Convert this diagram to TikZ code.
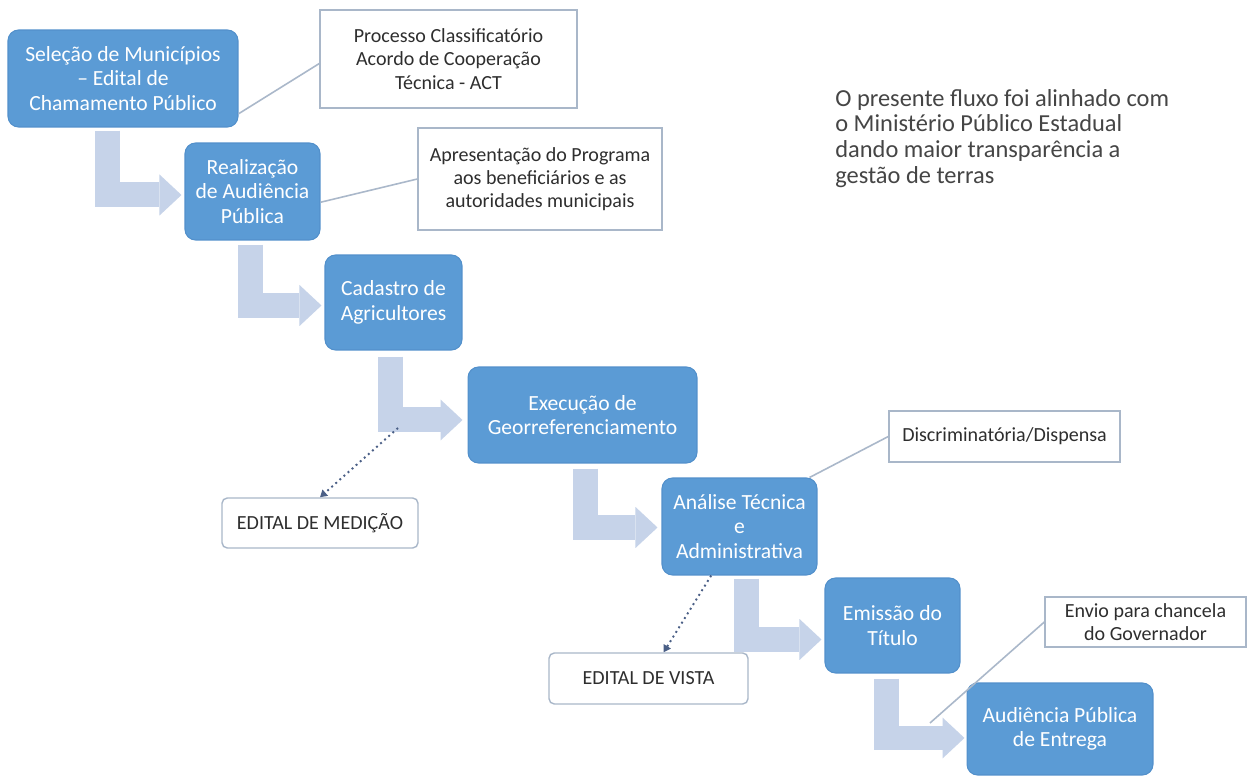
\documentclass[tikz,border=0pt]{standalone}
\usepackage{fontspec}
\setmainfont{Carlito}
\usetikzlibrary{arrows.meta}

\definecolor{stepblue}{HTML}{5B9BD5}
\definecolor{stepedge}{HTML}{5290CB}
\definecolor{arrowblue}{HTML}{C6D3E9}
\definecolor{noteedge}{HTML}{A9B7C9}
\definecolor{linkgray}{HTML}{AAB8CA}
\definecolor{dotblue}{HTML}{4A5F86}
\definecolor{notetext}{HTML}{2E2E2E}
\definecolor{commentgray}{HTML}{454545}

\begin{document}
\begin{tikzpicture}[x=0.02cm, y=-0.02cm,
    stepbox/.style={rectangle, rounded corners=6pt, fill=stepblue, draw=stepedge,
      line width=0.6pt, text=white, align=center, inner sep=0pt,
      font=\fontsize{12.3}{14}\selectfont},
    notebox/.style={rectangle, fill=white, draw=noteedge, line width=0.8pt,
      text=notetext, align=center, inner sep=0pt, font=\fontsize{11.4}{13.2}\selectfont},
    tagbox/.style={notebox, rounded corners=3pt},
    steparrow/.style={draw=arrowblue, line width=0.5cm, line join=miter,
      -{Triangle[width=0.82cm,length=0.44cm,line width=0pt]}},
    link/.style={draw=linkgray, line width=0.9pt},
    dotlink/.style={draw=dotblue, dotted, line width=1.1pt,
      -{Triangle[width=4.5pt,length=4pt]}}]

  \fill[white] (0,0) rectangle (1248,776);
  \useasboundingbox (0,0) rectangle (1248,776);

  % steps
  \begin{scope}
    \node[stepbox, minimum width=4.6cm,  minimum height=1.94cm] (sel) at (123,78.5)
      {Seleção de Municípios\\– Edital de\\Chamamento Público};
    \node[stepbox, minimum width=2.7cm,  minimum height=1.94cm] (rea) at (252.5,191.5)
      {Realização\\de Audiência\\Pública};
    \node[stepbox, minimum width=2.74cm, minimum height=1.9cm]  (cad) at (393.5,302.5)
      {Cadastro de\\Agricultores};
    \node[stepbox, minimum width=4.58cm, minimum height=1.92cm] (exe) at (582.5,415)
      {Execução de\\Georreferenciamento};
    \node[stepbox, minimum width=3.1cm,  minimum height=1.94cm] (ana) at (739.5,526.5)
      {Análise Técnica\\e\\Administrativa};
    \node[stepbox, minimum width=2.7cm,  minimum height=1.9cm]  (emi) at (892.5,625.5)
      {Emissão do\\Título};
    \node[stepbox, minimum width=3.72cm, minimum height=1.84cm] (aud) at (1060,729)
      {Audiência Pública\\de Entrega};
  \end{scope}

  % notes
  \begin{scope}
    \node[notebox, minimum width=5.14cm, minimum height=1.96cm] (proc) at (448.5,59)
      {Processo Classificatório\\Acordo de Cooperação\\Técnica - ACT};
    \node[notebox, minimum width=4.88cm, minimum height=2.04cm] (apr) at (540,179)
      {Apresentação do Programa\\aos beneficiários e as\\autoridades municipais};
    \node[notebox, minimum width=4.62cm, minimum height=1.02cm] (disc) at (1004.5,436.5)
      {Discriminatória/Dispensa};
    \node[notebox, minimum width=4.02cm, minimum height=1.0cm]  (env) at (1145.5,622)
      {Envio para chancela\\do Governador};
    \node[tagbox, minimum width=3.92cm, minimum height=1.0cm]   (med) at (320,523)
      {EDITAL DE MEDIÇÃO};
    \node[tagbox, minimum width=3.98cm, minimum height=1.02cm]  (vis) at (648.5,678.5)
      {EDITAL DE VISTA};
  \end{scope}

  \node[anchor=north west, align=left, inner sep=0pt, text=commentgray,
    font=\fontsize{13.9}{14.6}\selectfont] (remark) at (835,89)
    {O presente fluxo foi alinhado com\\o Ministério Público Estadual\\dando maior transparência a\\gestão de terras};

  \coordinate (medfoot) at (398,428);
  \coordinate (envfoot) at (930,723);

  % callout lines
  \draw[link] (sel.-17) -- (proc.182);
  \draw[link] (rea.-9) -- (apr.west);
  \draw[link] (ana.35) -- (disc.west);
  \draw[link] (envfoot) -- (env.west);

  % bent arrows
  \draw[steparrow] ([xshift=-0.31cm,yshift=-0.06cm]sel.south) |- ([yshift=-0.07cm,xshift=-0.06cm]rea.west);
  \draw[steparrow] ([xshift=-0.05cm,yshift=-0.08cm]rea.south) |- ([yshift=-0.06cm,xshift=-0.06cm]cad.west);
  \draw[steparrow] ([xshift=-0.06cm,yshift=-0.12cm]cad.south) |- ([yshift=-0.1cm,xshift=-0.1cm]exe.west);
  \draw[steparrow] ([xshift=0.05cm,yshift=-0.1cm]exe.south)   |- ([yshift=-0.02cm,xshift=-0.08cm]ana.west);
  \draw[steparrow] ([xshift=0.14cm,yshift=-0.06cm]ana.south)  |- ([yshift=-0.28cm,xshift=-0.06cm]emi.west);
  \draw[steparrow] ([xshift=-0.12cm,yshift=-0.1cm]emi.south)  |- ([yshift=-0.18cm,xshift=-0.04cm]aud.west);

  % edital links
  \draw[dotlink] (medfoot) -- (med.north);
  \draw[dotlink] (ana.240) -- (vis.60);

\end{tikzpicture}
\end{document}
